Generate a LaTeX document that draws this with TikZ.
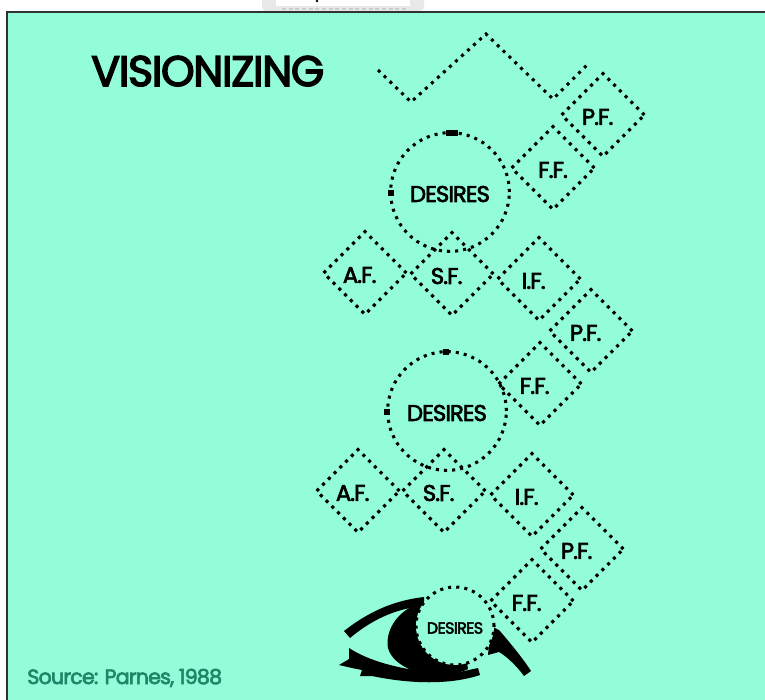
\documentclass[tikz,border=0pt]{standalone}
\usepackage{fontspec}
\setmainfont{Poppins}
\newfontfamily\labfont{Poppins}[FakeBold=3, LetterSpace=-4]
\newfontfamily\headfont{Poppins}[FakeBold=3.5, LetterSpace=-3]
\usetikzlibrary{shapes.geometric}

\definecolor{panel}{RGB}{146,253,216}
\definecolor{srcteal}{RGB}{30,135,105}
\definecolor{rim}{RGB}{45,50,50}

\tikzset{
  dots/.style={draw=black, line width=2.3pt, dash pattern=on 2.3pt off 3.8pt},
  factor/.style={diamond, aspect=1, dots, minimum size=63pt, inner sep=0pt},
  wish/.style={circle, dots, inner sep=0pt},
  lab/.style={font=\labfont\fontsize{17}{17}\selectfont, inner sep=0pt, xshift=-4pt, yshift=-1.5pt},
  handle/.style={fill=black},
}

\begin{document}
\begin{tikzpicture}[x=0.75pt, y=-0.75pt]
\useasboundingbox (0,0) rectangle (765,700);

% page strip above the panel
\fill[white] (0,0) rectangle (765,700);
\fill[gray!18, rounded corners=3pt] (262,-6) rectangle (424,11);
\fill[white] (276,-6) rectangle (410,6);
\draw[gray!40, line width=1pt, dash pattern=on 3pt off 2pt] (282,9) -- (406,9);
\fill[black] (317,1) circle (1.4);

% panel
\fill[panel] (7,12) rectangle (765,700);
\draw[rim, line width=1.6pt] (7,700) -- (7,12) -- (765,12);

% title and source
\node[anchor=base west, inner sep=0pt, font=\headfont\fontsize{32}{32}\selectfont] (title) at (91,86) {VISIONIZING};
\node[anchor=base west, inner sep=0pt, text=srcteal, font=\labfont\fontsize{15.5}{15.5}\selectfont] (source) at (27,684) {Source: Parnes, 1988};

% open zigzag at the top
\coordinate (z1) at (378,70);
\coordinate (z2) at (411,102);
\coordinate (z3) at (486,34);
\coordinate (z4) at (553,99);
\coordinate (z5) at (588,64);
\draw[dots] (z1) -- (z2) -- (z3) -- (z4) -- (z5);

% first cycle
\node[wish, minimum size=89pt] (c1) at (450,192) {};
\node[lab, xshift=4pt] (c1t) at (c1) {DESIRES};
\fill[handle] (446,130) rectangle (458,136);
\fill[handle] (388,190) rectangle (394,196);
\node[factor] (pf1) at (603,115) {};
\node[lab] (pf1t) at (pf1) {P.F.};
\node[factor] (ff1) at (553,168) {};
\node[lab, xshift=4pt] (ff1t) at (ff1) {F.F.};
\node[factor] (af1) at (365,273) {};
\node[lab] (af1t) at (af1) {A.F.};
\node[factor] (sf1) at (452,274) {};
\node[lab] (sf1t) at (sf1) {S.F.};
\node[factor] (if1) at (539,279) {};
\node[lab] (if1t) at (if1) {I.F.};

% second cycle
\node[factor] (pf2) at (591,331) {};
\node[lab] (pf2t) at (pf2) {P.F.};
\node[factor] (ff2) at (540,384) {};
\node[lab] (ff2t) at (ff2) {F.F.};
\node[wish, minimum size=89pt] (c2) at (447,411) {};
\node[lab, xshift=4pt] (c2t) at (c2) {DESIRES};
\fill[handle] (443,349) rectangle (449,355);
\fill[handle] (384,409) rectangle (390,415);
\node[factor] (af2) at (358,491) {};
\node[lab] (af2t) at (af2) {A.F.};
\node[factor] (sf2) at (444,491) {};
\node[lab] (sf2t) at (sf2) {S.F.};
\node[factor] (if2) at (532,495) {};
\node[lab] (if2t) at (if2) {I.F.};
\node[factor] (pf3) at (582,549) {};
\node[lab] (pf3t) at (pf3) {P.F.};
\node[factor] (ff3) at (532,601) {};
\node[lab] (ff3t) at (ff3) {F.F.};

% the eye: iris, lids and lashes
\fill[black] (420,603) .. controls (396,611) and (385,632) .. (388,648)
  .. controls (392,663) and (412,673) .. (432,675)
  .. controls (445,676) and (458,674) .. (468,669) -- (460,620) -- cycle;
\fill[black] (344,631) .. controls (372,609) and (398,600) .. (424,597)
  -- (424,606) .. controls (400,608) and (375,617) .. (350,638) -- cycle;
\fill[black] (349,648) .. controls (370,662) and (410,673) .. (455,673)
  -- (478,668) -- (480,675) .. controls (450,685) and (410,684) .. (372,676)
  -- (360,676) -- (362,670) -- (352,668) -- (339,665) -- (349,659) -- cycle;
\fill[black] (491,626) -- (499,630) .. controls (512,645) and (524,660) .. (531,671)
  -- (524,676) .. controls (516,665) and (506,656) .. (499,652)
  -- (488,655) -- (489,644) -- cycle;

% pupil circle
\node[wish, fill=panel, minimum size=58.5pt] (c3) at (455,626) {};
\node[lab, xshift=4pt, font=\labfont\fontsize{12}{12}\selectfont] (c3t) at (c3) {DESIRES};
\end{tikzpicture}
\end{document}
